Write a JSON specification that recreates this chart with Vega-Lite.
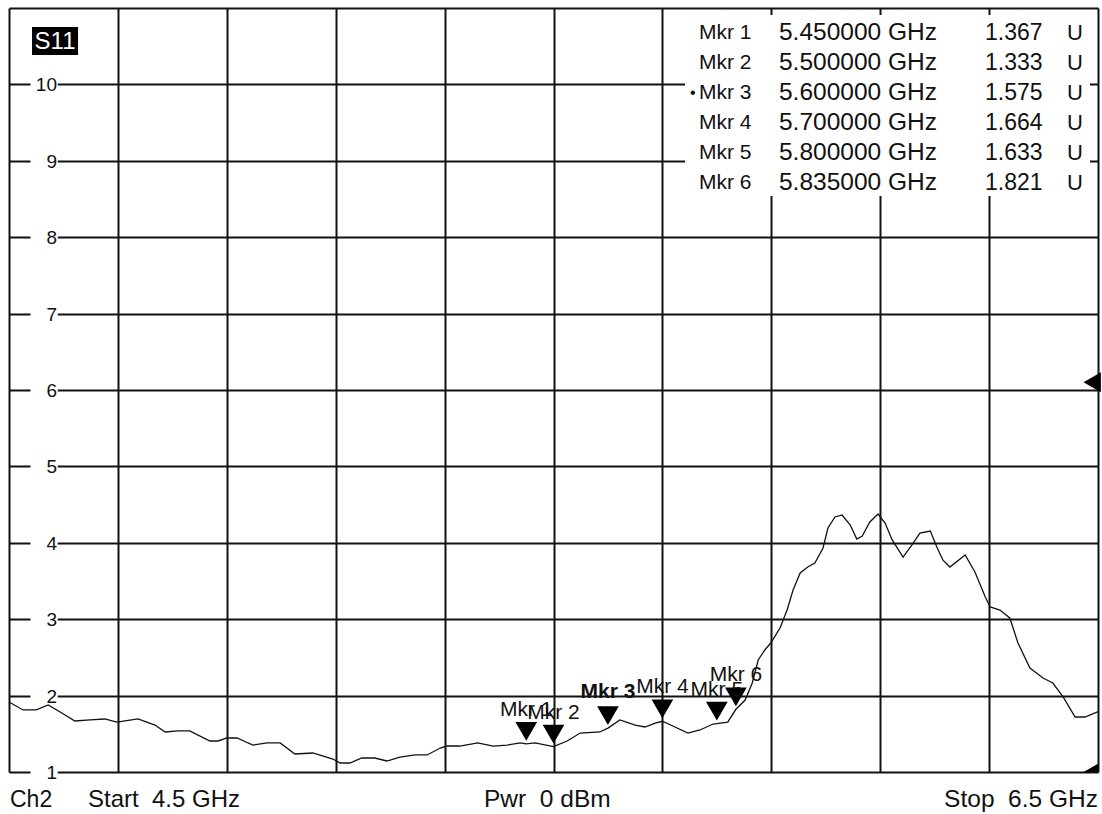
{
  "$schema": "https://vega.github.io/schema/vega-lite/v6.json",
  "autosize": {"type": "none"},
  "padding": {"left": 9, "top": 8, "right": 4, "bottom": 42},
  "width": 1089,
  "height": 764,
  "background": "white",
  "config": {
    "view": {"stroke": null},
    "font": "Liberation Sans",
    "text": {"font": "Liberation Sans", "color": "#111"}
  },
  "datasets": {
    "trace": [
      {"f": 4.500, "v": 1.916}, {"f": 4.526, "v": 1.812}, {"f": 4.550, "v": 1.812}, {"f": 4.572, "v": 1.877},
      {"f": 4.594, "v": 1.785}, {"f": 4.621, "v": 1.668}, {"f": 4.649, "v": 1.681}, {"f": 4.676, "v": 1.694},
      {"f": 4.698, "v": 1.654}, {"f": 4.737, "v": 1.694}, {"f": 4.768, "v": 1.615}, {"f": 4.787, "v": 1.524},
      {"f": 4.810, "v": 1.537}, {"f": 4.832, "v": 1.537}, {"f": 4.869, "v": 1.406}, {"f": 4.884, "v": 1.406},
      {"f": 4.900, "v": 1.445}, {"f": 4.919, "v": 1.445}, {"f": 4.939, "v": 1.380}, {"f": 4.948, "v": 1.353},
      {"f": 4.974, "v": 1.380}, {"f": 4.998, "v": 1.380}, {"f": 5.025, "v": 1.236}, {"f": 5.058, "v": 1.249},
      {"f": 5.095, "v": 1.170}, {"f": 5.108, "v": 1.118}, {"f": 5.126, "v": 1.118}, {"f": 5.148, "v": 1.183},
      {"f": 5.172, "v": 1.183}, {"f": 5.194, "v": 1.144}, {"f": 5.218, "v": 1.196}, {"f": 5.246, "v": 1.223},
      {"f": 5.268, "v": 1.223}, {"f": 5.292, "v": 1.314}, {"f": 5.304, "v": 1.340}, {"f": 5.328, "v": 1.340},
      {"f": 5.361, "v": 1.380}, {"f": 5.389, "v": 1.340}, {"f": 5.415, "v": 1.353}, {"f": 5.439, "v": 1.380},
      {"f": 5.450, "v": 1.367}, {"f": 5.466, "v": 1.380}, {"f": 5.500, "v": 1.333}, {"f": 5.525, "v": 1.406},
      {"f": 5.549, "v": 1.510}, {"f": 5.585, "v": 1.524}, {"f": 5.600, "v": 1.575}, {"f": 5.622, "v": 1.681},
      {"f": 5.650, "v": 1.615}, {"f": 5.668, "v": 1.589}, {"f": 5.687, "v": 1.641}, {"f": 5.700, "v": 1.664},
      {"f": 5.723, "v": 1.589}, {"f": 5.747, "v": 1.510}, {"f": 5.769, "v": 1.550}, {"f": 5.793, "v": 1.628},
      {"f": 5.800, "v": 1.633}, {"f": 5.820, "v": 1.654}, {"f": 5.835, "v": 1.821}, {"f": 5.852, "v": 1.942},
      {"f": 5.865, "v": 2.165}, {"f": 5.876, "v": 2.466}, {"f": 5.888, "v": 2.597}, {"f": 5.899, "v": 2.688},
      {"f": 5.916, "v": 2.885}, {"f": 5.929, "v": 3.120}, {"f": 5.940, "v": 3.382}, {"f": 5.953, "v": 3.605},
      {"f": 5.967, "v": 3.683}, {"f": 5.980, "v": 3.736}, {"f": 5.995, "v": 3.932}, {"f": 6.004, "v": 4.194},
      {"f": 6.017, "v": 4.338}, {"f": 6.030, "v": 4.364}, {"f": 6.045, "v": 4.233}, {"f": 6.057, "v": 4.050},
      {"f": 6.067, "v": 4.089}, {"f": 6.081, "v": 4.272}, {"f": 6.096, "v": 4.377}, {"f": 6.109, "v": 4.259},
      {"f": 6.122, "v": 4.037}, {"f": 6.142, "v": 3.814}, {"f": 6.158, "v": 3.971}, {"f": 6.173, "v": 4.128},
      {"f": 6.192, "v": 4.154}, {"f": 6.204, "v": 3.945}, {"f": 6.215, "v": 3.775}, {"f": 6.228, "v": 3.683},
      {"f": 6.256, "v": 3.840}, {"f": 6.274, "v": 3.618}, {"f": 6.293, "v": 3.291}, {"f": 6.302, "v": 3.160},
      {"f": 6.320, "v": 3.120}, {"f": 6.338, "v": 3.016}, {"f": 6.353, "v": 2.688}, {"f": 6.375, "v": 2.361},
      {"f": 6.399, "v": 2.230}, {"f": 6.417, "v": 2.165}, {"f": 6.436, "v": 1.982}, {"f": 6.458, "v": 1.720},
      {"f": 6.476, "v": 1.720}, {"f": 6.498, "v": 1.785}, {"f": 6.500, "v": 1.790}
    ],
    "markers": [
      {"n": 1, "f": 5.450, "v": 1.367, "name": "Mkr 1", "freq": "5.450000 GHz", "val": "1.367", "unit": "U", "sel": false},
      {"n": 2, "f": 5.500, "v": 1.333, "name": "Mkr 2", "freq": "5.500000 GHz", "val": "1.333", "unit": "U", "sel": false},
      {"n": 3, "f": 5.600, "v": 1.575, "name": "Mkr 3", "freq": "5.600000 GHz", "val": "1.575", "unit": "U", "sel": true},
      {"n": 4, "f": 5.700, "v": 1.664, "name": "Mkr 4", "freq": "5.700000 GHz", "val": "1.664", "unit": "U", "sel": false},
      {"n": 5, "f": 5.800, "v": 1.633, "name": "Mkr 5", "freq": "5.800000 GHz", "val": "1.633", "unit": "U", "sel": false},
      {"n": 6, "f": 5.835, "v": 1.821, "name": "Mkr 6", "freq": "5.835000 GHz", "val": "1.821", "unit": "U", "sel": false}
    ],
    "ylabels": [
      {"v": 1, "t": "1"}, {"v": 2, "t": "2"}, {"v": 3, "t": "3"}, {"v": 4, "t": "4"}, {"v": 5, "t": "5"},
      {"v": 6, "t": "6"}, {"v": 7, "t": "7"}, {"v": 8, "t": "8"}, {"v": 9, "t": "9"}, {"v": 10, "t": "10"}
    ],
    "reflevel": [{"f": 6.5, "v": 6.1}],
    "bottomref": [{"f": 6.5, "v": 1.0}]
  },
  "resolve": {"scale": {"y": "independent"}},
  "layer": [
    {
      "encoding": {
        "x": {"type": "quantitative", "scale": {"domain": [4.5, 6.5], "nice": false, "zero": false},
              "axis": {"values": [4.5, 4.7, 4.9, 5.1, 5.3, 5.5, 5.7, 5.9, 6.1, 6.3, 6.5], "grid": true, "gridColor": "#111", "gridWidth": 2, "gridOpacity": 1, "labels": false, "ticks": false, "domain": false, "title": null}},
        "y": {"type": "quantitative", "scale": {"domain": [1, 11], "nice": false, "zero": false},
              "axis": {"values": [1, 2, 3, 4, 5, 6, 7, 8, 9, 10, 11], "grid": true, "gridColor": "#111", "gridWidth": 2, "gridOpacity": 1, "labels": false, "ticks": false, "domain": false, "title": null}}
      },
      "layer": [
        {
          "data": {"name": "trace"},
          "mark": {"type": "line", "color": "#111", "strokeWidth": 1.3, "interpolate": "linear"},
          "encoding": {"x": {"field": "f"}, "y": {"field": "v"}}
        },
        {
          "data": {"name": "ylabels"},
          "mark": {"type": "rule", "color": "white", "strokeWidth": 7},
          "encoding": {"x": {"datum": 4.5395}, "x2": {"datum": 4.5895}, "y": {"field": "v"}}
        },
        {
          "data": {"name": "ylabels"},
          "mark": {"type": "text", "align": "right", "baseline": "middle", "fontSize": 19, "dx": 48, "dy": 1},
          "encoding": {"x": {"datum": 4.5}, "y": {"field": "v"}, "text": {"field": "t"}}
        },
        {
          "data": {"values": [{"t": "S11"}]},
          "mark": {"type": "rect", "color": "black"},
          "encoding": {"x": {"datum": 4.5423}, "x2": {"datum": 4.6268}, "y": {"datum": 10.75}, "y2": {"datum": 10.385}}
        },
        {
          "data": {"values": [{"t": "S11"}]},
          "mark": {"type": "text", "align": "center", "baseline": "middle", "fontSize": 24, "color": "white", "dy": 1},
          "encoding": {"x": {"datum": 4.5845}, "y": {"datum": 10.57}, "text": {"field": "t"}}
        },
        {
          "data": {"values": [{"t": "box"}]},
          "mark": {"type": "rect", "color": "white"},
          "encoding": {"x": {"datum": 5.7415}, "x2": {"datum": 6.4853}, "y": {"datum": 10.91}, "y2": {"datum": 8.54}}
        },
        {
          "data": {"name": "markers"},
          "mark": {"type": "point", "shape": "triangle-down", "size": 470, "filled": true, "color": "black", "opacity": 1, "yOffset": -12.5},
          "encoding": {"x": {"field": "f"}, "y": {"field": "v"}}
        },
        {
          "data": {"name": "markers"},
          "transform": [{"filter": "!datum.sel"}],
          "mark": {"type": "text", "align": "center", "baseline": "middle", "fontSize": 21, "dy": -34},
          "encoding": {"x": {"field": "f"}, "y": {"field": "v"}, "text": {"field": "name"}}
        },
        {
          "data": {"name": "markers"},
          "transform": [{"filter": "datum.sel"}],
          "mark": {"type": "text", "align": "center", "baseline": "middle", "fontSize": 21, "fontWeight": "bold", "dy": -36},
          "encoding": {"x": {"field": "f"}, "y": {"field": "v"}, "text": {"field": "name"}}
        },
        {
          "data": {"name": "reflevel"},
          "mark": {"type": "point", "shape": "triangle-left", "size": 400, "filled": true, "color": "black", "opacity": 1, "xOffset": -5.8},
          "encoding": {"x": {"field": "f"}, "y": {"field": "v"}}
        },
        {
          "data": {"name": "bottomref"},
          "mark": {"type": "point", "shape": "triangle-left", "size": 400, "filled": true, "color": "black", "opacity": 1, "xOffset": -5.8, "clip": true},
          "encoding": {"x": {"field": "f"}, "y": {"field": "v"}}
        },
        {
          "data": {"values": [{"t": "Ch2"}]},
          "mark": {"type": "text", "align": "left", "baseline": "middle", "fontSize": 23, "dx": 1, "dy": 28},
          "encoding": {"x": {"datum": 4.5}, "y": {"datum": 1}, "text": {"field": "t"}}
        },
        {
          "data": {"values": [{"t": "Start\u00a0\u00a04.5 GHz"}]},
          "mark": {"type": "text", "align": "left", "baseline": "middle", "fontSize": 24, "dy": 28},
          "encoding": {"x": {"datum": 4.6451}, "y": {"datum": 1}, "text": {"field": "t"}}
        },
        {
          "data": {"values": [{"t": "Pwr\u00a0\u00a00 dBm"}]},
          "mark": {"type": "text", "align": "left", "baseline": "middle", "fontSize": 24.5, "dy": 28},
          "encoding": {"x": {"datum": 5.3724}, "y": {"datum": 1}, "text": {"field": "t"}}
        },
        {
          "data": {"values": [{"t": "Stop\u00a0\u00a06.5 GHz"}]},
          "mark": {"type": "text", "align": "right", "baseline": "middle", "fontSize": 24.5, "dy": 28},
          "encoding": {"x": {"datum": 6.5}, "y": {"datum": 1}, "text": {"field": "t"}}
        }
      ]
    },
    {
      "data": {"name": "markers"},
      "encoding": {
        "y": {"field": "n", "type": "quantitative", "scale": {"domain": [25.633, 0.1667], "nice": false, "zero": false}, "axis": null}
      },
      "layer": [
        {
          "mark": {"type": "text", "align": "left", "baseline": "middle", "fontSize": 21},
          "encoding": {"x": {"datum": 5.7672}, "text": {"field": "name"}}
        },
        {
          "mark": {"type": "text", "align": "left", "baseline": "middle", "fontSize": 24.5},
          "encoding": {"x": {"datum": 5.9141}, "text": {"field": "freq"}}
        },
        {
          "mark": {"type": "text", "align": "left", "baseline": "middle", "fontSize": 23},
          "encoding": {"x": {"datum": 6.2924}, "text": {"field": "val"}}
        },
        {
          "mark": {"type": "text", "align": "left", "baseline": "middle", "fontSize": 22},
          "encoding": {"x": {"datum": 6.4430}, "text": {"field": "unit"}}
        },
        {
          "transform": [{"filter": "datum.sel"}],
          "mark": {"type": "text", "align": "left", "baseline": "middle", "fontSize": 16},
          "encoding": {"x": {"datum": 5.7507}, "text": {"value": "•"}}
        }
      ]
    }
  ]
}
